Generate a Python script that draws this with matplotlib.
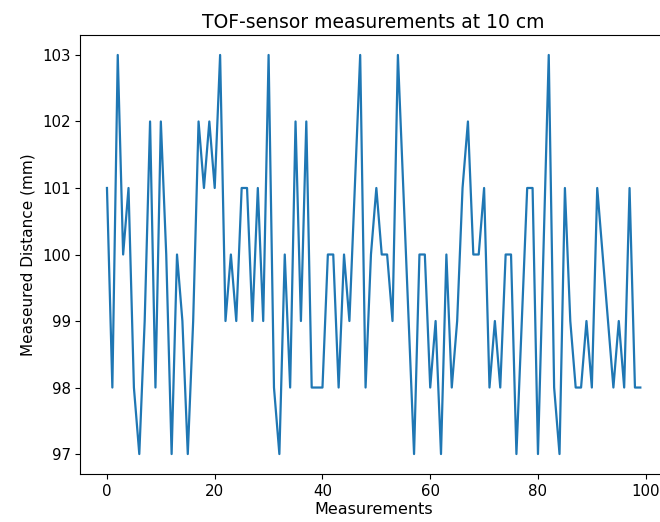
import matplotlib
matplotlib.use("Agg")
import matplotlib.pyplot as plt

measurements = list(range(100))
distance_mm = [
    101, 98, 103, 100, 101, 98, 97, 99, 102, 98,
    102, 100, 97, 100, 99, 97, 99, 102, 101, 102,
    101, 103, 99, 100, 99, 101, 101, 99, 101, 99,
    103, 98, 97, 100, 98, 102, 99, 102, 98, 98,
    98, 100, 100, 98, 100, 99, 101, 103, 98, 100,
    101, 100, 100, 99, 103, 101, 99, 97, 100, 100,
    98, 99, 97, 100, 98, 99, 101, 102, 100, 100,
    101, 98, 99, 98, 100, 100, 97, 99, 101, 101,
    97, 100, 103, 98, 97, 101, 99, 98, 98, 99,
    98, 101, 100, 99, 98, 99, 98, 101, 98, 98,
]

fig = plt.figure(figsize=(6.6, 5.22), dpi=100)
W, H = 660, 522
left, right, top, bottom = 80.3, 667.0, 35.0, 474.0
ax = fig.add_axes([left / W, (H - bottom) / H, (right - left) / W, (bottom - top) / H])
ax.plot(measurements, distance_mm, color="#1f77b4", linewidth=1.6)
ax.set_title("TOF-sensor measurements at 10 cm", fontsize=13.5, pad=5)
ax.set_xlabel("Measurements", fontsize=11.5, labelpad=2)
ax.set_ylabel("Measeured Distance (mm)", fontsize=11, labelpad=5)
ax.tick_params(labelsize=10.8)

fig.savefig("out.png", dpi=100)
